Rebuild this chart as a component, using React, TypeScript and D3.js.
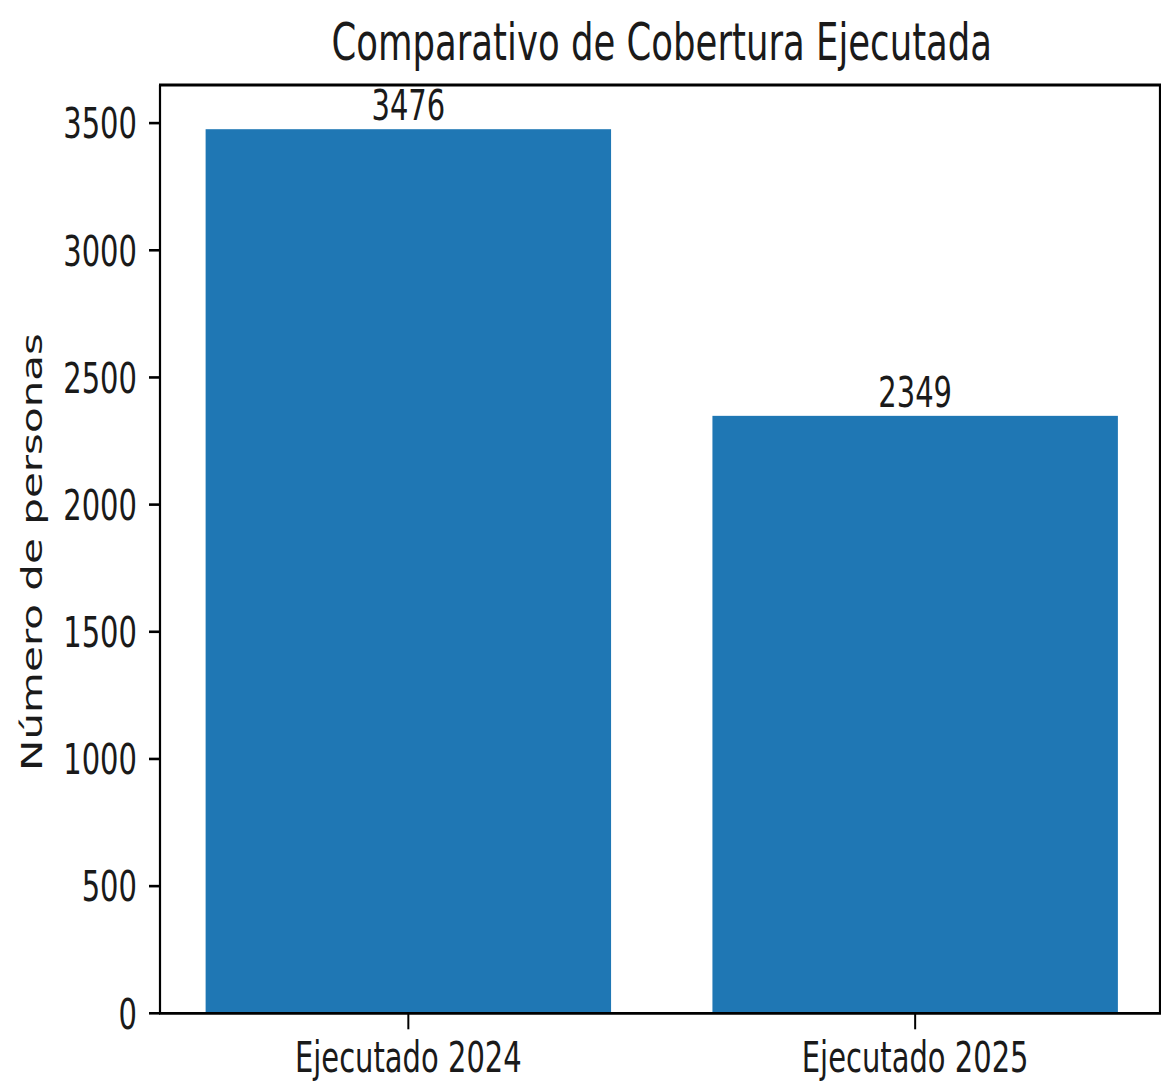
import React from "react";
import * as d3 from "d3";

const categories: string[] = ["Ejecutado 2024", "Ejecutado 2025"];
const values: number[] = [3476, 2349];
const yTicks: number[] = [0, 500, 1000, 1500, 2000, 2500, 3000, 3500];
const title = "Comparativo de Cobertura Ejecutada";
const yLabel = "Número de personas";

const W = 1161;
const H = 1083;
const K = 1.45; // vertical stretch of text
const FONT = "DejaVu Sans";
const FS = 29;
const TITLE_FS = 35.5;
const BAR_COLOR = "#1f77b4";

export default function App() {
  const left = 160;
  const right = 1163.5;
  const top = 85;
  const bottom = 1013.3;

  const idx = categories.map((_, i) => i);
  const x = d3.scaleLinear().domain([-0.49, 1.49]).range([left, right]);
  const yMax = d3.max(values)! * 1.05;
  const y = d3.scaleLinear().domain([0, yMax]).range([bottom, top]);
  const barW = x(0.4) - x(0);

  const capHalf = (FS * 0.729 * K) / 2;
  const rightSpine = Math.min(right, W - 1);

  return (
    <svg
      width={W}
      height={H}
      style={{ position: "absolute", left: 0, top: 0, background: "#fff" }}
      fontFamily={FONT}
    >
      <rect x={0} y={0} width={W} height={H} fill="#fff" />
      {/* bars */}
      {idx.map((i) => (
        <rect
          key={"b" + i}
          x={x(i) - barW}
          y={y(values[i])}
          width={barW * 2}
          height={y(0) - y(values[i])}
          fill={BAR_COLOR}
        />
      ))}
      {/* bar labels */}
      {idx.map((i) => (
        <text
          key={"l" + i}
          transform={`translate(${x(i)},${y(values[i]) - 9}) scale(1,${K})`}
          textAnchor="middle"
          fontSize={FS}
          fill="#1a1a1a"
        >
          {values[i]}
        </text>
      ))}
      {/* spines */}
      <line x1={left} x2={left} y1={top} y2={bottom} stroke="#000" strokeWidth={2.2} />
      <line x1={rightSpine} x2={rightSpine} y1={top} y2={bottom} stroke="#000" strokeWidth={2.2} />
      <line x1={left - 1} x2={W} y1={top} y2={top} stroke="#000" strokeWidth={2.8} />
      <line x1={left - 1} x2={W} y1={bottom} y2={bottom} stroke="#000" strokeWidth={2.8} />
      {/* y ticks */}
      {yTicks.map((t) => (
        <g key={"yt" + t}>
          <line x1={149} x2={left} y1={y(t)} y2={y(t)} stroke="#000" strokeWidth={2.6} />
          <text
            transform={`translate(137,${y(t) + capHalf}) scale(1,${K})`}
            textAnchor="end"
            fontSize={FS}
            fill="#1a1a1a"
          >
            {t}
          </text>
        </g>
      ))}
      {/* x ticks */}
      {idx.map((i) => (
        <g key={"xt" + i}>
          <line x1={x(i)} x2={x(i)} y1={bottom} y2={bottom + 16} stroke="#000" strokeWidth={2} />
          <text
            transform={`translate(${x(i)},1072) scale(1,${K})`}
            textAnchor="middle"
            fontSize={FS}
            fill="#1a1a1a"
          >
            {categories[i]}
          </text>
        </g>
      ))}
      {/* y label */}
      <text
        transform={`translate(42,552) scale(1,${K}) rotate(-90)`}
        textAnchor="middle"
        fontSize={FS}
        fill="#1a1a1a"
      >
        {yLabel}
      </text>
      {/* title */}
      <text
        transform={`translate(${(left + right) / 2},60) scale(1,${K})`}
        textAnchor="middle"
        fontSize={TITLE_FS}
        fill="#1a1a1a"
      >
        {title}
      </text>
    </svg>
  );
}
